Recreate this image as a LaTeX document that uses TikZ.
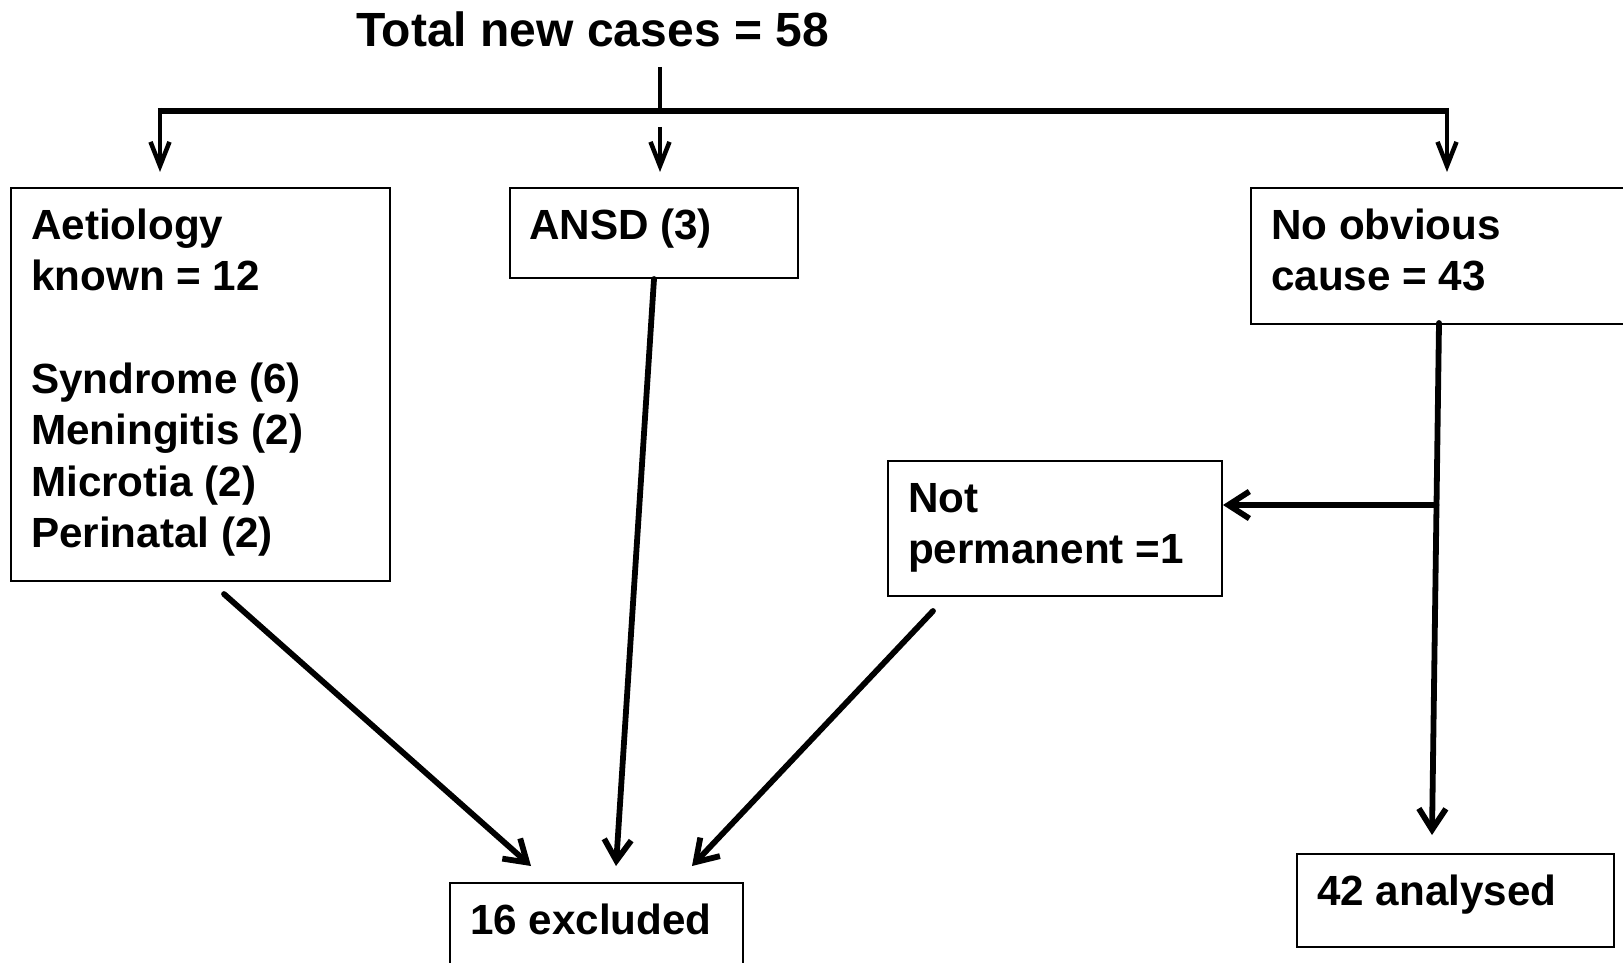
\documentclass[tikz,border=0pt]{standalone}
\usepackage{fontspec}
\setmainfont{Liberation Sans}
\usetikzlibrary{arrows.meta,calc}
\tikzset{
  box/.style={draw=black, line width=2pt, anchor=north west, inner sep=0pt},
  lbl/.style={anchor=base west, inner sep=0pt, font=\bfseries\fontsize{42.2}{51.5}\selectfont},
  ttl/.style={anchor=base, inner sep=0pt, font=\bfseries\fontsize{48}{56}\selectfont},
  stemline/.style={line width=4pt},
  barline/.style={line width=6.5pt},
  toparr/.style={line width=4.5pt, -{Straight Barb[length=24pt,width=19pt]}},
  bigarr/.style={line width=5.8pt, line cap=round, -{Straight Barb[length=21pt,width=27pt]}},
}
\begin{document}
\begin{tikzpicture}[x=1pt,y=-1pt]
\useasboundingbox (0,0) rectangle (1623,963);
\clip (0,0) rectangle (1623,963);
\fill[white] (0,0) rectangle (1623,963);

% title
\node[ttl] (title) at (592.5,46.5) {Total new cases = 58};

% boxes
\node[box, minimum width=379pt, minimum height=393pt] (aet) at (10,187) {};
\node[box, minimum width=288pt, minimum height=90pt] (ansd) at (509,187) {};
\node[box, minimum width=420pt, minimum height=136pt] (noob) at (1250,187) {};
\node[box, minimum width=334pt, minimum height=135pt] (notp) at (887,460) {};
\node[box, minimum width=293pt, minimum height=130pt] (excl) at (449,882) {};
\node[box, minimum width=317pt, minimum height=93pt] (anal) at (1296,853) {};

% texts
\node[lbl] (aetT) at (31,239) {\begin{tabular}[t]{@{}l@{}}Aetiology\\known = 12\\ \\Syndrome (6)\\Meningitis (2)\\Microtia (2)\\Perinatal (2)\end{tabular}};
\node[lbl] (ansdT) at (529,239) {ANSD (3)};
\node[lbl] (noobT) at (1271,239) {\begin{tabular}[t]{@{}l@{}}No obvious\\cause = 43\end{tabular}};
\node[lbl] (notpT) at (908,512) {\begin{tabular}[t]{@{}l@{}}Not\\permanent =1\end{tabular}};
\node[lbl] (exclT) at (470,934) {16 excluded};
\node[lbl] (analT) at (1317,905) {42 analysed};

% top connectors
\coordinate (st) at (660,67);
\coordinate (junc) at (660,111);
\coordinate (hl) at (160,111);
\coordinate (hr) at (1447,111);
\coordinate (hlt) at (160,172);
\coordinate (hrt) at (1447,172);
\coordinate (m1) at (660,127);
\coordinate (m2) at (660,172);
\draw[stemline] (st) -- (junc);
\draw[barline] ($(hl)+(-2.25,0)$) -- ($(hr)+(2.25,0)$);
\draw[toparr] ($(hl)+(0,-3)$) -- (hlt);
\draw[toparr] ($(hr)+(0,-3)$) -- (hrt);
\draw[toparr] (m1) -- (m2);

% lower connectors
\coordinate (a1) at (224,594);
\coordinate (a2) at (531,866);
\coordinate (b2) at (616,866);
\coordinate (c1) at (933,611);
\coordinate (c2) at (692,866);
\coordinate (n1) at (1439,323);
\coordinate (n2) at (1432,835);
\coordinate (br) at (1436.5,505);
\coordinate (brt) at (1223,505);
\draw[bigarr] (a1) -- (a2);
\draw[bigarr] (ansd.south) -- (b2);
\draw[bigarr] (c1) -- (c2);
\draw[bigarr] (n1) -- (n2);
\draw[bigarr] (br) -- (brt);
\end{tikzpicture}
\end{document}
